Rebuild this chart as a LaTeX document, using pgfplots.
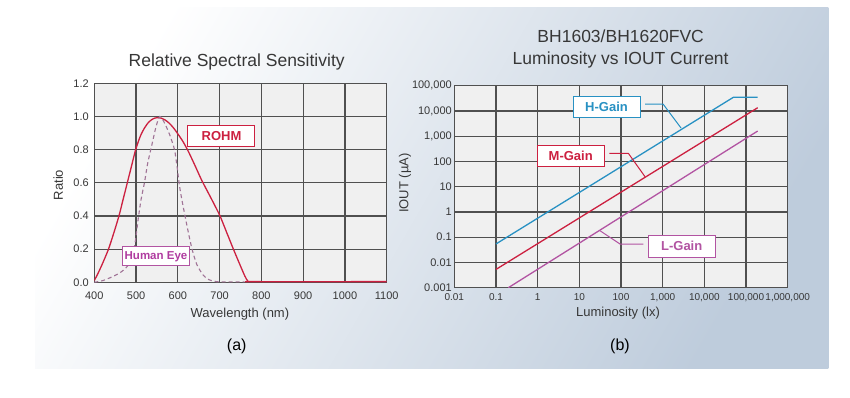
\documentclass[border=0pt]{standalone}
\usepackage{fontspec}
\setmainfont{Liberation Sans}
\usepackage{pgfplots}
\pgfplotsset{compat=1.18}
\definecolor{rohm}{RGB}{204,32,64}
\definecolor{hblue}{RGB}{40,145,195}
\definecolor{lpurple}{RGB}{178,84,162}
\definecolor{eyetxt}{RGB}{176,60,160}
\definecolor{eye}{RGB}{160,115,150}
\definecolor{gridc}{RGB}{80,80,80}
\definecolor{plotbg}{RGB}{240,240,240}
\definecolor{bgb}{RGB}{190,204,220}
\definecolor{txt}{RGB}{55,55,55}

\begin{document}
\begin{tikzpicture}
\useasboundingbox (0pt,0pt) rectangle (850pt,397pt);
\fill[white] (0pt,0pt) rectangle (850pt,397pt);
\shade[top color=white, bottom color=bgb, shading angle=60] (35pt,28.7pt) rectangle (828.3pt,389pt);

\pgfplotsset{
  mystyle/.style={
    scale only axis,
    grid=major,
    grid style={gridc, line width=1.15pt},
    axis line style={gridc, line width=1.4pt},
    axis background/.style={fill=plotbg},
    tick style={draw=none},
    xminorticks=false, yminorticks=false,
    ticklabel style={text=txt},
    label style={text=txt, font=\fontsize{13}{13}\selectfont},
  }
}

% ---------------- Left chart ----------------
\begin{axis}[mystyle,
  at={(94.3pt,114.7pt)}, anchor=south west,
  width=292.4pt, height=199pt,
  xmin=400, xmax=1100, ymin=0, ymax=1.2,
  xtick={400,500,600,700,800,900,1000,1100},
  ytick={0,0.2,0.4,0.6,0.8,1.0,1.2},
  /pgf/number format/assume math mode=true,
  xticklabel style={font=\fontsize{11}{11}\selectfont, yshift=-6pt, /pgf/number format/1000 sep={}},
  yticklabel style={font=\fontsize{11}{11}\selectfont, xshift=-2pt,
     /pgf/number format/fixed, /pgf/number format/fixed zerofill, /pgf/number format/precision=1},
  title={Relative Spectral Sensitivity},
  title style={at={(0.487,1.075)}, anchor=center, font=\fontsize{17.5}{17.5}\selectfont, text=txt},
  xlabel={Wavelength (nm)},
  xlabel style={at={(0.498,-0.161)}, anchor=center},
  ylabel={Ratio},
  ylabel style={at={(-0.123,0.489)}, anchor=center},
]
\addplot[rohm, line width=1.3pt, smooth, tension=0.4] coordinates {
(400,0.01)(410,0.06)(420,0.115)(434,0.2)(447,0.3)(459,0.4)(469,0.5)(479,0.6)(489,0.7)(499,0.8)
(510,0.88)(520,0.93)(530,0.965)(540,0.985)(550,0.993)(560,0.99)(570,0.978)(580,0.958)(590,0.93)
(600,0.895)(612,0.85)(625,0.79)(640,0.71)(657,0.616)(680,0.505)(701,0.4)(717,0.3)(733,0.2)
(748,0.11)(760,0.04)(768,0.006)(780,0.004)(1100,0.004)};
\addplot[eye, line width=1.1pt, dash pattern=on 4pt off 3pt, smooth, tension=0.4] coordinates {
(400,0.0)(420,0.01)(440,0.03)(460,0.055)(475,0.085)(485,0.12)(495,0.2)(500,0.28)(505,0.38)
(512,0.5)(520,0.6)(528,0.72)(537,0.82)(546,0.92)(552,0.975)(557,1.0)(563,0.985)(572,0.94)
(582,0.88)(592,0.8)(598,0.7)(604,0.58)(611,0.48)(618,0.39)(626,0.29)(634,0.2)(645,0.11)
(660,0.045)(675,0.015)(690,0.005)(700,0.003)(760,0.003)};
\node[draw=rohm, fill=white, line width=1pt, minimum width=67pt, minimum height=21.5pt,
      inner sep=0pt, text=rohm, font=\bfseries\fontsize{13}{13}\selectfont]
      at (axis cs:704.5,0.882) {ROHM};
\node[draw=lpurple, fill=white, line width=1pt, minimum width=66.7pt, minimum height=19.3pt,
      inner sep=0pt, text=eyetxt, font=\bfseries\fontsize{11.5}{11.5}\selectfont]
      at (axis cs:547.7,0.157) {Human Eye};
\end{axis}

% ---------------- Right chart ----------------
\begin{axis}[mystyle,
  at={(454.3pt,109.3pt)}, anchor=south west,
  width=333.4pt, height=202pt,
  xmode=log, ymode=log,
  xmin=0.01, xmax=1e6, ymin=1e-3, ymax=1e5,
  xtick={1e-2,1e-1,1,10,100,1000,1e4,1e5,1e6},
  xticklabels={0.01,0.1,1,10,100,{1,000},{10,000},{100,000},{1,000,000}},
  ytick={1e-3,1e-2,1e-1,1,10,100,1000,1e4,1e5},
  yticklabels={0.001,0.01,0.1,1,10,100,{1,000},{10,000},{100,000}},
  xticklabel style={font=\fontsize{10}{10}\selectfont, yshift=-2pt},
  yticklabel style={font=\fontsize{11}{11}\selectfont, xshift=1pt},
  title={BH1603/BH1620FVC\\Luminosity vs IOUT Current},
  title style={at={(0.499,1.151)}, anchor=center, align=center,
     font=\fontsize{17.5}{22.3}\selectfont, text=txt},
  xlabel={Luminosity (lx)},
  xlabel style={at={(0.491,-0.127)}, anchor=center},
  ylabel={IOUT (µA)},
  ylabel style={at={(-0.148,0.518)}, anchor=center},
]
\addplot[hblue, line width=1.3pt] coordinates {(0.1,0.054)(49500,34600)(190000,34600)};
\addplot[rohm, line width=1.3pt] coordinates {(0.1,0.0053)(190000,13400)};
\addplot[lpurple, line width=1.3pt] coordinates {(0.198,0.001)(190000,1600)};
% leader lines
\draw[hblue, line width=1pt] (axis cs:377,18800) -- (axis cs:1020,18800) -- (axis cs:2760,2110);
\draw[rohm, line width=1pt] (axis cs:52.4,210) -- (axis cs:150,210) -- (axis cs:377,24.9);
\draw[lpurple, line width=1pt] (axis cs:31.3,0.181) -- (axis cs:94.6,0.0538) -- (axis cs:343,0.0538);
\node[draw=hblue, fill=white, line width=1pt, minimum width=67pt, minimum height=21pt,
      inner sep=0pt, text=hblue, font=\bfseries\fontsize{13}{13}\selectfont]
      at (axis cs:44.9,14100) {H-Gain};
\node[draw=rohm, fill=white, line width=1pt, minimum width=67pt, minimum height=21.5pt,
      inner sep=0pt, text=rohm, font=\bfseries\fontsize{13}{13}\selectfont]
      at (axis cs:6.21,164) {M-Gain};
\node[draw=lpurple, fill=white, line width=1pt, minimum width=67pt, minimum height=22pt,
      inner sep=0pt, text=lpurple, font=\bfseries\fontsize{13}{13}\selectfont]
      at (axis cs:2860,0.044) {L-Gain};
\end{axis}

\node[text=black, font=\fontsize{16}{16}\selectfont] at (236.7pt,50.3pt) {(a)};
\node[text=black, font=\fontsize{16}{16}\selectfont] at (620pt,50.3pt) {(b)};
\end{tikzpicture}
\end{document}
